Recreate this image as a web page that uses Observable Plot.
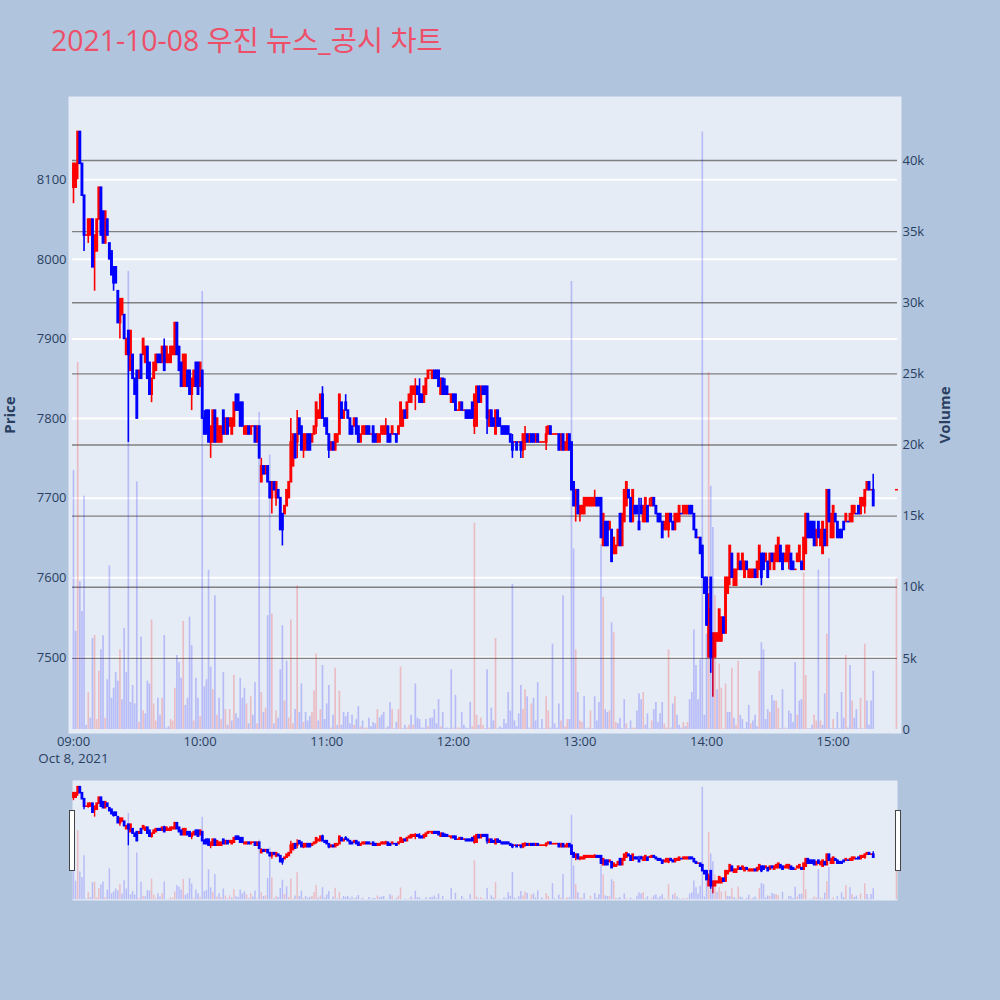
<!DOCTYPE html>
<html>
<head>
<meta charset="utf-8">
<script src="https://cdn.jsdelivr.net/npm/d3@7"></script>
<script src="https://cdn.jsdelivr.net/npm/@observablehq/plot@0.6"></script>
<style>
html,body{margin:0;padding:0;background:#b0c4de;}
#fig{position:relative;width:1000px;height:1000px;background:#b0c4de;overflow:hidden;}
#fig svg{position:absolute;left:0;top:0;background:transparent;}
#title{position:absolute;left:51px;top:20px;font:28.4px "Open Sans","Noto Sans CJK KR",sans-serif;color:#ee4f68;white-space:nowrap;line-height:40px;}
.handle{position:absolute;box-sizing:border-box;width:6px;height:61px;top:810px;background:#fff;border:1px solid #444;}
</style>
</head>
<body>
<div id="fig"><div id="title">2021-10-08 우진 뉴스_공시 차트</div></div>
<script>
const priceTicks = [7500,7600,7700,7800,7900,8000,8100];
const volumeTicks = [0,5,10,15,20,25,30,35,40];
const hourTicks = [0,60,120,180,240,300,360];

// [open, high, low, close] for each minute from 09:00; null = no trade
const candles = [
[8090,8120,8070,8120],[8090,8120,8090,8120],[8120,8160,8100,8160],[8160,8160,8120,8120],[8120,8120,8080,8080],[8080,8080,8010,8030],[8030,8030,8030,8030],[8030,8050,8020,8050],[8030,8050,8030,8050],[8050,8050,7990,7990],
[8010,8030,7960,8030],[8010,8050,8010,8050],[8050,8090,8050,8090],[8090,8090,8030,8030],[8060,8060,8020,8020],[8020,8060,8020,8060],[8050,8050,8030,8030],[8020,8020,8000,8000],[8010,8010,7980,7980],[7990,7990,7960,7970],
[7990,7990,7970,7970],[7960,7960,7920,7920],[7920,7950,7900,7950],[7930,7950,7930,7950],[7930,7930,7900,7900],[7880,7900,7880,7900],[7910,7910,7770,7880],[7860,7910,7860,7910],[7880,7880,7850,7850],[7850,7850,7830,7830],
[7860,7860,7800,7800],[7850,7860,7850,7860],[7880,7880,7850,7850],[7880,7900,7880,7900],[7870,7890,7870,7890],[7890,7890,7850,7850],[7870,7870,7830,7830],[7830,7850,7820,7850],[7850,7870,7850,7870],[7860,7880,7860,7880],
[7880,7880,7870,7870],[7880,7880,7870,7870],[7870,7890,7870,7890],[7890,7900,7860,7860],[7870,7890,7870,7890],[7870,7880,7870,7880],[7870,7890,7870,7890],[7880,7890,7880,7890],[7880,7920,7880,7920],[7920,7920,7880,7880],
[7890,7890,7860,7860],[7870,7870,7840,7840],[7840,7880,7840,7880],[7840,7880,7840,7880],[7860,7860,7840,7840],[7860,7860,7830,7830],[7830,7850,7810,7850],[7840,7860,7840,7860],[7870,7870,7840,7840],[7870,7870,7830,7830],
[7840,7870,7840,7870],[7860,7860,7800,7800],[7800,7810,7780,7780],[7810,7810,7780,7780],[7810,7810,7770,7770],[7770,7790,7750,7790],[7770,7810,7770,7810],[7810,7810,7770,7770],[7770,7800,7770,7800],[7770,7790,7770,7790],
[7770,7790,7770,7790],[7810,7810,7780,7780],[7780,7800,7780,7800],[7800,7800,7780,7780],[7790,7800,7790,7800],[7780,7800,7780,7800],[7790,7820,7790,7820],[7830,7830,7810,7810],[7830,7830,7810,7810],[7820,7820,7790,7790],
[7820,7820,7790,7790],[7780,7790,7780,7790],[7780,7790,7780,7790],[7790,7790,7780,7780],[7780,7790,7780,7790],[7790,7790,7790,7790],[7790,7790,7770,7770],[7770,7790,7770,7790],[7790,7790,7750,7750],[7720,7750,7720,7740],
[7740,7740,7730,7730],[7730,7740,7730,7740],[7740,7740,7720,7720],[7720,7720,7700,7700],[7700,7720,7680,7720],[7720,7720,7710,7710],[7700,7720,7690,7720],[7710,7710,7700,7700],[7700,7700,7660,7660],[7680,7680,7640,7660],
[7680,7690,7680,7690],[7690,7710,7690,7710],[7700,7720,7700,7720],[7720,7800,7720,7770],[7740,7780,7740,7780],[7780,7780,7750,7750],[7770,7810,7750,7780],[7800,7800,7780,7780],[7790,7790,7760,7760],[7760,7780,7750,7780],
[7760,7780,7760,7780],[7780,7780,7760,7760],[7780,7780,7760,7760],[7770,7780,7770,7780],[7780,7790,7780,7790],[7790,7820,7780,7820],[7800,7810,7800,7810],[7800,7830,7800,7830],[7830,7840,7800,7800],[7800,7800,7790,7790],
[7800,7800,7780,7780],[7780,7780,7750,7760],[7760,7770,7760,7770],[7770,7770,7760,7760],[7760,7780,7760,7780],[7770,7780,7770,7780],[7780,7830,7780,7830],[7820,7820,7800,7800],[7800,7810,7800,7810],[7820,7830,7810,7810],
[7810,7810,7800,7800],[7800,7800,7780,7780],[7790,7790,7780,7780],[7790,7800,7790,7800],[7800,7800,7780,7780],[7790,7790,7770,7770],[7770,7780,7770,7780],[7780,7790,7780,7790],[7780,7790,7780,7790],[7790,7790,7780,7780],
[7790,7790,7780,7780],[7780,7780,7780,7780],[7790,7790,7770,7770],[7780,7780,7770,7770],[7770,7780,7770,7780],[7770,7780,7770,7780],[7780,7790,7780,7790],[7780,7790,7780,7790],[7780,7800,7780,7790],[7790,7790,7770,7770],
[7780,7780,7770,7770],[7780,7790,7780,7790],[7780,7780,7780,7780],[7780,7780,7770,7770],[7780,7790,7780,7790],[7790,7820,7790,7820],[7790,7810,7790,7810],[7810,7810,7800,7800],[7800,7820,7800,7820],[7820,7830,7820,7830],
[7820,7840,7820,7840],[7830,7840,7830,7840],[7830,7850,7810,7840],[7840,7840,7830,7830],[7830,7850,7820,7820],[7830,7830,7820,7820],[7820,7840,7820,7840],[7830,7850,7830,7850],[7850,7860,7850,7860],[7860,7860,7860,7860],
[7850,7860,7850,7860],[7860,7860,7850,7850],[7860,7860,7850,7850],[7860,7860,7840,7840],[7830,7850,7830,7850],[7850,7850,7830,7830],[7840,7850,7830,7830],[7840,7840,7830,7830],[7830,7830,7830,7830],[7820,7830,7820,7830],
[7830,7830,7820,7820],[7830,7830,7810,7810],[7810,7810,7810,7810],[7810,7820,7810,7820],[7820,7820,7810,7810],[7810,7810,7810,7810],[7810,7810,7800,7800],[7810,7810,7800,7800],[7810,7810,7800,7800],[7820,7820,7800,7800],
[7790,7830,7780,7830],[7790,7840,7790,7840],[7840,7840,7820,7820],[7820,7840,7820,7840],[7840,7840,7830,7830],[7840,7840,7830,7830],[7840,7840,7780,7800],[7790,7810,7790,7810],[7810,7810,7790,7790],[7800,7800,7790,7790],
[7780,7810,7780,7810],[7810,7810,7790,7790],[7800,7800,7790,7790],[7790,7790,7780,7780],[7790,7790,7780,7780],[7790,7790,7780,7780],[7790,7790,7780,7780],[7780,7780,7770,7770],[7770,7780,7750,7760],[7770,7770,7770,7770],
[7770,7770,7760,7760],[7770,7770,7770,7770],[7770,7770,7750,7760],[7760,7780,7750,7780],[7770,7790,7760,7780],[7780,7780,7770,7770],[7770,7780,7770,7780],[7780,7780,7770,7770],[7780,7780,7770,7770],[7770,7780,7770,7780],
[7780,7780,7770,7770],[7770,7770,7770,7770],[7770,7770,7770,7770],[7770,7770,7770,7770],[7770,7790,7760,7780],[7780,7790,7780,7790],[7790,7790,7780,7780],[7780,7780,7780,7780],[7780,7780,7780,7780],[7780,7780,7780,7780],
[7780,7780,7760,7760],[7760,7780,7760,7780],[7780,7780,7760,7760],[7760,7770,7760,7770],[7760,7780,7760,7780],[7780,7780,7760,7760],[7770,7770,7710,7710],[7720,7720,7690,7690],[7690,7710,7670,7710],[7710,7710,7680,7680],
[7680,7690,7670,7690],[7680,7690,7680,7690],[7680,7700,7680,7700],[7690,7700,7690,7700],[7690,7700,7690,7700],[7690,7700,7690,7700],[7690,7700,7690,7700],[7690,7710,7690,7700],[7700,7700,7690,7690],[7700,7700,7690,7690],
[7700,7700,7650,7650],[7640,7680,7640,7680],[7670,7670,7640,7640],[7670,7670,7640,7640],[7660,7670,7660,7670],[7660,7660,7620,7620],[7630,7650,7630,7650],[7630,7640,7630,7640],[7640,7660,7640,7660],[7680,7680,7640,7640],
[7640,7680,7640,7680],[7670,7710,7670,7710],[7690,7720,7690,7720],[7710,7710,7700,7700],[7700,7700,7670,7670],[7670,7710,7670,7710],[7690,7690,7680,7680],[7690,7690,7680,7680],[7670,7700,7660,7660],[7690,7700,7680,7680],
[7670,7690,7670,7690],[7670,7700,7670,7700],[7690,7690,7670,7670],[7690,7700,7690,7690],[7690,7700,7690,7700],[7700,7700,7690,7690],[7690,7690,7680,7680],[7680,7680,7670,7670],[7680,7680,7670,7670],[7670,7670,7650,7650],
[7660,7670,7660,7670],[7660,7680,7660,7680],[7660,7680,7650,7680],[7680,7680,7670,7670],[7670,7670,7660,7660],[7660,7680,7660,7680],[7670,7680,7670,7680],[7670,7690,7670,7690],[7680,7680,7680,7680],[7680,7690,7680,7690],
[7680,7690,7680,7690],[7680,7690,7680,7690],[7690,7690,7680,7680],[7690,7690,7680,7680],[7680,7680,7660,7660],[7660,7660,7650,7650],[7650,7650,7650,7650],[7650,7650,7630,7630],[7640,7640,7600,7600],[7600,7600,7580,7580],
[7600,7600,7540,7540],[7500,7580,7500,7560],[7600,7600,7480,7500],[7500,7530,7450,7530],[7500,7530,7500,7530],[7520,7530,7520,7530],[7520,7560,7520,7560],[7520,7550,7520,7550],[7550,7550,7530,7530],[7530,7600,7530,7600],
[7580,7600,7580,7600],[7600,7640,7590,7640],[7630,7630,7600,7600],[7590,7610,7590,7610],[7590,7610,7590,7610],[7610,7630,7610,7630],[7620,7620,7610,7610],[7610,7630,7610,7630],[7600,7620,7600,7620],[7620,7620,7610,7610],
[7600,7610,7600,7610],[7600,7610,7600,7610],[7600,7610,7600,7610],[7610,7610,7600,7600],[7600,7620,7600,7620],[7610,7640,7610,7640],[7630,7630,7590,7600],[7630,7630,7610,7610],[7620,7630,7620,7630],[7620,7620,7600,7600],
[7610,7630,7610,7630],[7630,7630,7620,7620],[7610,7630,7610,7630],[7620,7640,7620,7640],[7620,7650,7620,7650],[7640,7640,7620,7620],[7630,7630,7610,7610],[7620,7630,7620,7630],[7620,7640,7620,7640],[7620,7640,7610,7640],
[7630,7630,7610,7610],[7620,7620,7610,7610],[7610,7610,7610,7610],[7620,7630,7620,7630],[7620,7640,7620,7640],[7620,7620,7610,7610],[7610,7650,7610,7650],[7630,7680,7630,7680],[7680,7680,7650,7650],[7670,7670,7650,7650],
[7670,7670,7650,7650],[7670,7670,7640,7640],[7640,7660,7640,7660],[7670,7670,7650,7650],[7640,7660,7640,7660],[7630,7670,7630,7670],[7660,7660,7640,7640],[7640,7710,7640,7710],[7710,7710,7670,7670],[7650,7680,7650,7680],
[7650,7690,7650,7690],[7680,7680,7670,7670],[7670,7670,7650,7650],[7660,7660,7650,7650],[7660,7660,7650,7650],[7670,7670,7660,7660],[7670,7680,7670,7680],[7670,7670,7670,7670],[7670,7680,7670,7680],[7670,7690,7670,7690],
[7680,7690,7680,7690],[7680,7680,7680,7680],[7690,7690,7680,7680],[7680,7700,7680,7700],[7690,7700,7690,7700],[7690,7710,7680,7710],[7710,7720,7710,7720],[7720,7720,7710,7710],[7710,7710,7710,7710],[7710,7730,7690,7690],
null,null,null,null,null,null,null,null,null,null,
[7710,7710,7710,7710]];

// traded volume per minute, in thousands
const volumes = [
18.2,6.9,25.8,10.4,8.3,16.4,.3,2.6,.8,6.4, 6.6,.7,4.1,5.6,6.6,.8,3.5,11.5,2.2,2.9,
4,3.4,5.6,2.1,7.1,4,32.2,1.9,3.1,1.8, 17.4,.5,6.5,1.3,1.1,3.4,3.2,7.7,1.8,.6,
2.2,1,2.2,6.6,.1,.2,.7,.6,2.9,5.2, 4.7,3.6,7.6,1.7,2.2,7.9,5.9,.6,3.6,2.2,
.9,30.8,3,3.5,11.2,4.4,2.8,9.4,1,2.2, .7,4,1.4,.3,1.4,.6,3.8,1.1,.8,3.6,
2.2,2.9,1.8,.4,2.3,1,3.3,.4,22.3,2.6, 1.2,1.5,8,19.3,8.1,.4,1.3,.8,4.2,7.3,
2,4.8,.8,7.7,.4,1.4,10.1,1.2,3.2,.5, 1.2,.6,.9,1.2,2.7,5.3,.6,1.4,4.5,.7,
1.8,3.1,.1,1,4.3,.3,2.7,.3,1.2,.9, 1.2,.4,1,.3,.7,1.6,.2,.6,.1,.1,
.8,.2,.5,.4,1.4,.8,1,1.2,.1,.2, 1.9,1.4,.05,.5,1.4,4.4,.05,.3,.1,.3,
1,.3,3.2,.8,.7,.1,.1,.7,.2,.8, .8,1.4,.4,2.1,.2,1.2,.05,.1,.05,4.2,
.1,2.4,.1,.1,1.2,.3,.1,.05,1.9,.2, 14.5,1,.3,.8,.3,.05,4.2,.1,1.5,.6,
6.4,.05,.2,.1,.7,.4,2.6,1.3,10.2,.6, .2,1.1,3.1,1.4,2.8,2.3,.1,1.8,2.2,.6,
3.3,.05,.7,.05,2.3,1.3,.1,6,.4,.1, 1.8,.6,9.4,.2,.7,.7,31.5,12.7,5.6,2.6,
.6,.5,2.3,.05,.1,1.3,.05,2.3,.6,1.9, 13,9.3,1.4,1.2,1.3,7.5,6.8,.5,.4,.8,
.05,2.1,.4,.05,.6,.1,.1,1.3,2.5,2.1, 2.6,.3,1.1,.05,.6,1.4,1.9,.5,1.1,1.9,
.4,.1,5.6,.1,1.8,2.3,1,.3,.1,.5, .2,.5,2.1,2.6,7,4.5,2.1,4.9,42,1,
6.7,25.1,17.1,14.2,9.4,2.8,4.6,2.9,.05,3.2, 1.2,1.2,4.3,.8,.3,4.8,1,.7,.05,.5,
1.7,.4,.6,1,.2,4.1,6.1,5.6,.7,1.4, 1.2,2.4,2,2,1.5,.05,2.8,.1,.05,1.3,
1.1,.5,4.7,1,2,2.1,11,3.8,.05,.05, .3,1,.6,11.2,.6,.3,2.5,6.7,12,.05,
.7,.05,1.2,.05,2.6,.8,5.2,.1,4.5,2, .8,1.4,.05,2.2,.05,6,2,.3,2,4.1,
0,0,0,0,0,0,0,0,0,0,
10.6];

// colour of each volume bar: r = red, b = blue
const volumeSides = [
"bbrbbbbrbb","rrrbbrbbbb","bbrbbbbbbb","brbrbbbrrr","bbrbbbrrrb","bbrbbbbrbb","rbbbbbrbrb","rbrbrbrbbb",
"bbrbrbbrbr","brbbrbrbbb","rbrrrbrbbr","bbbrrrbrbb","bbrbrbrbbb","bbbrbbrbrr","bbbbrbbbrb","brbbrrbbrr",
"brbbbbbbrb","bbbbrbbbbb","rbrrbbbbbr","rrbrrbbrbb","rbbbbbbbbb","bbbrrbbrbb","bbbbrrbbbb","brbrrbbbrb",
"rrbbbrbbbb","brbbrbrrbb","bbrbbrrbbb","rbbbrbbbbb","rrrbbrbbbr","brbbbbbbbb","brbbrbrrrr","bbrbrrbbbb",
"brbbbrbbbb","rbbrrbbrbb","bbbrbbrrbb","brrbrbbrbb","rbbbbbrbbr","bbbrbrbbbb","bbbbbbbbbb","r"].join("");

const t = m => new Date(Date.UTC(2021, 9, 8, 9, m));
const up = "#ff0000", down = "#0000ff", ink = "#2a3f5f";
const rows = candles.map((c, i) => c && ({
  date: t(i), open: c[0], high: c[1], low: c[2], close: c[3],
  bodyTop: Math.max(c[0], c[3]), bodyBottom: Math.min(c[0], c[3]),
  rising: c[3] > c[0] || (c[3] === c[0] && i > 0 && candles[i-1] && c[3] >= candles[i-1][3]) || i === 390
})).filter(Boolean);
const bars = volumes.map((v, i) => ({date: t(i), volume: v, side: volumeSides[i]})).filter(d => d.volume > 0);

const priceDomain = [7404.4, 8204.6];
const volumeDomain = [-0.28, 44.5];
const font = '"Open Sans","DejaVu Sans",sans-serif';
const mainFrame = {width:1000, height:1000, marginTop:96, marginBottom:267, marginLeft:68, marginRight:99,
  x:{type:"utc", axis:null, domain:[new Date(t(0).getTime()-142000), new Date(t(392).getTime()+24000)]},
  style:{background:"transparent", fontFamily:font, fontSize:"13px"}};
const sliderFrame = {width:1000, height:1000, marginTop:780, marginBottom:100, marginLeft:72, marginRight:103,
  x:{type:"utc", axis:null, domain:[new Date(t(0).getTime()-28000), new Date(t(390).getTime()+30000)]},
  style:{background:"transparent", fontFamily:font, fontSize:"13px"}};
const lineStart = new Date(t(0).getTime()-28000), lineEnd = new Date(t(390).getTime()+30000);

function candleMarks(wick, body) {
  const series = (rising, color) => {
    const d = rows.filter(r => r.rising === rising);
    return [
      Plot.ruleX(d, {x:"date", y1:"high", y2:"low", stroke:color, strokeWidth:wick}),
      Plot.ruleX(d, {x:"date", y1:"bodyTop", y2:"bodyBottom", stroke:color, strokeWidth:body, insetTop:-0.8, insetBottom:-0.8})
    ];
  };
  return [...series(true, up), ...series(false, down)];
}
function volumeMarks(width) {
  return [
    Plot.ruleX(bars.filter(d => d.side === "r"), {x:"date", y1:0, y2:"volume", stroke:up, strokeWidth:width, strokeOpacity:0.2}),
    Plot.ruleX(bars.filter(d => d.side === "b"), {x:"date", y1:0, y2:"volume", stroke:down, strokeWidth:width, strokeOpacity:0.2})
  ];
}
const fig = document.getElementById("fig");
const add = el => fig.appendChild(el);

// base layer: background, white price grid, price and time axes
add(Plot.plot({...mainFrame,
  y:{domain:priceDomain, axis:null},
  marks:[
    Plot.frame({fill:"#e5ecf6", stroke:"none"}),
    Plot.ruleY(priceTicks, {x1:lineStart, x2:lineEnd, stroke:"#ffffff", strokeWidth:2}),
    Plot.axisY({ticks:priceTicks, tickSize:0, tickPadding:2, label:null, tickFormat:"d", fill:ink}),
    Plot.axisX({ticks:hourTicks.map(t), tickSize:0, tickPadding:3, label:null, tickFormat:d3.utcFormat("%H:%M"), fill:ink}),
    Plot.text(["Oct 8, 2021"], {x:[t(0)], frameAnchor:"bottom", dy:29, fill:ink, fontSize:13.4}),
    Plot.text(["Price"], {frameAnchor:"left", textAnchor:"middle", rotate:-90, dx:-58, fill:ink, fontSize:15, fontWeight:"bold", text:d=>d})
  ]}));

// volume grid and axis
add(Plot.plot({...mainFrame,
  y:{domain:volumeDomain, axis:null},
  marks:[
    Plot.ruleY(volumeTicks.slice(1), {x1:lineStart, x2:lineEnd, stroke:"#808080", strokeWidth:1.3}),
    Plot.axisY({anchor:"right", ticks:volumeTicks, tickSize:0, tickPadding:1, label:null, tickFormat:d=>d?d+"k":"0", fill:ink}),
    Plot.text(["Volume"], {frameAnchor:"right", textAnchor:"middle", rotate:-90, dx:44, fill:ink, fontSize:15, fontWeight:"bold", text:d=>d})
  ]}));

// candles on the price scale
add(Plot.plot({...mainFrame, y:{domain:priceDomain, axis:null},
  marks:candleMarks(1.6, 2.9)}));
// volume bars on top
add(Plot.plot({...mainFrame, y:{domain:volumeDomain, axis:null},
  marks:volumeMarks(1.7)}));

// range slider
add(Plot.plot({...sliderFrame, y:{domain:priceDomain, axis:null},
  marks:[Plot.frame({fill:"#e5ecf6", stroke:"none"}), ...candleMarks(1.4, 2.8)]}));
add(Plot.plot({...sliderFrame, y:{domain:volumeDomain, axis:null},
  marks:volumeMarks(1.5)}));

for (const left of [69, 895]) {
  const h = document.createElement("div");
  h.className = "handle"; h.style.left = left + "px";
  fig.appendChild(h);
}
</script>
</body>
</html>
